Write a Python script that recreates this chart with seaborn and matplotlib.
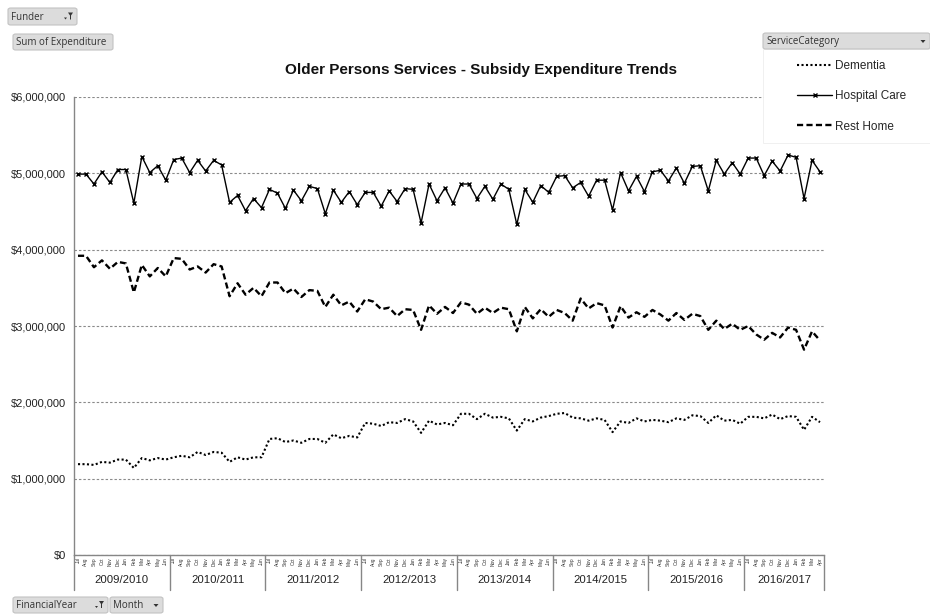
import matplotlib
matplotlib.use("Agg")
import matplotlib.pyplot as plt
import matplotlib.transforms as mtransforms
from matplotlib.patches import Rectangle, Polygon, FancyBboxPatch
from matplotlib.lines import Line2D
from matplotlib.ticker import StrMethodFormatter
import pandas as pd
import seaborn as sns

# ---- data -------------------------------------------------------------
financial_years = ["2009/2010", "2010/2011", "2011/2012", "2012/2013",
                   "2013/2014", "2014/2015", "2015/2016", "2016/2017"]
months = ["Jul", "Aug", "Sep", "Oct", "Nov", "Dec",
          "Jan", "Feb", "Mar", "Apr", "May", "Jun"]

# monthly subsidy expenditure, $ millions (Jul 2009 .. Apr 2017)
dementia = [
    1.19, 1.19, 1.18, 1.22, 1.21, 1.25, 1.25, 1.14, 1.27, 1.24, 1.27, 1.25,
    1.28, 1.30, 1.28, 1.35, 1.31, 1.35, 1.34, 1.22, 1.28, 1.25, 1.28, 1.28,
    1.52, 1.53, 1.48, 1.50, 1.47, 1.52, 1.52, 1.47, 1.58, 1.53, 1.56, 1.54,
    1.73, 1.72, 1.69, 1.74, 1.73, 1.78, 1.75, 1.60, 1.76, 1.71, 1.73, 1.70,
    1.85, 1.85, 1.78, 1.85, 1.80, 1.81, 1.79, 1.63, 1.78, 1.75, 1.80, 1.82,
    1.85, 1.86, 1.80, 1.79, 1.76, 1.79, 1.77, 1.61, 1.75, 1.73, 1.79, 1.75,
    1.77, 1.76, 1.74, 1.79, 1.77, 1.83, 1.82, 1.73, 1.83, 1.76, 1.77, 1.72,
    1.81, 1.81, 1.79, 1.84, 1.78, 1.82, 1.81, 1.64, 1.81, 1.74,
]
hospital_care = [
    4.99, 4.99, 4.86, 5.02, 4.88, 5.05, 5.05, 4.61, 5.22, 5.01, 5.10, 4.91,
    5.18, 5.20, 5.01, 5.17, 5.03, 5.17, 5.11, 4.62, 4.71, 4.51, 4.67, 4.55,
    4.79, 4.74, 4.54, 4.78, 4.64, 4.83, 4.80, 4.47, 4.78, 4.62, 4.76, 4.59,
    4.75, 4.75, 4.57, 4.77, 4.63, 4.80, 4.79, 4.35, 4.86, 4.64, 4.81, 4.61,
    4.86, 4.86, 4.67, 4.83, 4.66, 4.86, 4.79, 4.33, 4.79, 4.62, 4.84, 4.75,
    4.96, 4.97, 4.81, 4.88, 4.70, 4.91, 4.91, 4.52, 5.01, 4.77, 4.96, 4.76,
    5.02, 5.04, 4.90, 5.07, 4.87, 5.09, 5.10, 4.77, 5.17, 4.99, 5.14, 4.99,
    5.20, 5.20, 4.97, 5.16, 5.03, 5.24, 5.21, 4.67, 5.17, 5.02,
]
rest_home = [
    3.92, 3.92, 3.77, 3.86, 3.75, 3.84, 3.82, 3.44, 3.80, 3.65, 3.76, 3.65,
    3.89, 3.88, 3.74, 3.78, 3.70, 3.81, 3.78, 3.39, 3.56, 3.41, 3.50, 3.39,
    3.57, 3.57, 3.43, 3.49, 3.38, 3.47, 3.46, 3.25, 3.41, 3.27, 3.32, 3.19,
    3.35, 3.32, 3.22, 3.24, 3.13, 3.22, 3.21, 2.95, 3.27, 3.16, 3.25, 3.17,
    3.31, 3.28, 3.16, 3.24, 3.17, 3.24, 3.22, 2.93, 3.25, 3.10, 3.22, 3.12,
    3.21, 3.17, 3.07, 3.36, 3.23, 3.30, 3.27, 2.98, 3.26, 3.11, 3.18, 3.12,
    3.21, 3.15, 3.07, 3.17, 3.08, 3.16, 3.13, 2.95, 3.07, 2.96, 3.03, 2.95,
    3.00, 2.89, 2.82, 2.91, 2.85, 2.98, 2.95, 2.69, 2.93, 2.81,
]
y_ticks = [0, 1_000_000, 2_000_000, 3_000_000, 4_000_000, 5_000_000, 6_000_000]

# ---- long-form table --------------------------------------------------
n_periods = len(hospital_care)
period_year = [fy for fy in financial_years for _ in months][:n_periods]
period_month = [m for _ in financial_years for m in months][:n_periods]
series = {"Dementia": dementia, "Hospital Care": hospital_care, "Rest Home": rest_home}
frames = []
for name, vals in series.items():
    frames.append(pd.DataFrame({
        "Period": range(n_periods),
        "FinancialYear": period_year,
        "Month": period_month,
        "ServiceCategory": name,
        "Expenditure": [v * 1_000_000 for v in vals],
    }))
df = pd.concat(frames, ignore_index=True)

# ---- styling ----------------------------------------------------------
sns.set_style("white")
plt.rcParams["font.family"] = ["Liberation Sans", "DejaVu Sans"]

W, H = 930, 615
fig = plt.figure(figsize=(W / 100, H / 100), dpi=100)
fig.patch.set_facecolor("white")


def fx(px):
    return px / W


def fy(py):
    return 1 - py / H


ax = fig.add_axes([fx(74), fy(555), fx(824) - fx(74), fy(97) - fy(555)])

line_styles = {
    "Dementia": dict(linestyle=(0, (1.0, 1.15)), linewidth=1.5),
    "Hospital Care": dict(linestyle="-", linewidth=1.0, marker="x",
                          markersize=3.4, markeredgewidth=1.0,
                          markeredgecolor="black"),
    "Rest Home": dict(linestyle=(0, (2.6, 1.4)), linewidth=1.7),
}
for name, sub in df.groupby("ServiceCategory", sort=False):
    sns.lineplot(data=sub, x="Period", y="Expenditure", ax=ax, color="black",
                 legend=False, zorder=3, **line_styles[name])

# axes, grid, ticks
ax.set_xlim(-0.5, n_periods - 0.5)
ax.set_ylim(0, 6_000_000)
ax.set_yticks(y_ticks)
ax.yaxis.set_major_formatter(StrMethodFormatter("${x:,.0f}"))
ax.yaxis.grid(True, linestyle=(0, (2.2, 1.8)), color="#8a8a8a", linewidth=0.8)
ax.xaxis.grid(False)
ax.set_axisbelow(True)
ax.set_xlabel("")
ax.set_ylabel("")
for side in ("top", "right"):
    ax.spines[side].set_visible(False)
for side in ("left", "bottom"):
    ax.spines[side].set_color("#868686")
    ax.spines[side].set_linewidth(1.0)
ax.tick_params(axis="y", length=3, color="#868686", labelsize=8, pad=3,
               labelcolor="#222222")

ax.set_xticks(range(n_periods))
ax.set_xticklabels(period_month, rotation=90, fontsize=3.4, color="#333333")
ax.tick_params(axis="x", which="major", length=0, pad=1.5)
ax.set_xticks([i - 0.5 for i in range(n_periods + 1)], minor=True)
ax.tick_params(axis="x", which="minor", length=12, color="#868686", width=0.8)

# financial-year band under the month labels
trans = mtransforms.blended_transform_factory(ax.transData, ax.transAxes)
plot_h = 555 - 97
year_edges = [-0.5]
year_centres = []
for k, fyear in enumerate(financial_years):
    start = k * len(months) - 0.5
    end = min((k + 1) * len(months), n_periods) - 0.5
    year_edges.append(end)
    year_centres.append((start + end) / 2)
for edge in year_edges:
    ax.plot([edge, edge], [0, -35 / plot_h], transform=trans, color="#868686",
            linewidth=1.0, clip_on=False)
for centre, fyear in zip(year_centres, financial_years):
    ax.text(centre, -25 / plot_h, fyear, transform=trans, ha="center",
            va="center", fontsize=8.2, color="#222222")

# title
fig.text(fx(481), fy(70), "Older Persons Services - Subsidy Expenditure Trends",
         ha="center", va="center", fontsize=11, fontweight="bold", color="#111111")


# pivot-field buttons
def field_button(x0, y0, x1, y1, label, icon=None):
    fig.patches.append(FancyBboxPatch((fx(x0), fy(y1)), fx(x1) - fx(x0), fy(y0) - fy(y1),
                                      boxstyle="round,pad=0,rounding_size=0.003",
                                      transform=fig.transFigure, facecolor="#dcdcdc",
                                      edgecolor="#c2c2c2", linewidth=0.8, zorder=6))
    fig.text(fx(x0 + 3), fy((y0 + y1) / 2 + 0.5), label, ha="left", va="center",
             fontsize=7.0, color="#333333", family=["Open Sans", "DejaVu Sans"],
             zorder=7)
    if icon == "filter":
        cx, cy = x1 - 8, (y0 + y1) / 2
        fig.patches.append(Polygon([(fx(cx - 1), fy(cy - 4)), (fx(cx + 4), fy(cy - 4)),
                                    (fx(cx + 2), fy(cy - 1)), (fx(cx + 2), fy(cy + 3)),
                                    (fx(cx + 1), fy(cy + 3)), (fx(cx + 1), fy(cy - 1))],
                                   closed=True, transform=fig.transFigure,
                                   facecolor="#333333", edgecolor="none", zorder=7))
        fig.patches.append(Polygon([(fx(cx - 5), fy(cy + 1)), (fx(cx - 2), fy(cy + 1)),
                                    (fx(cx - 3.5), fy(cy + 3))], closed=True,
                                   transform=fig.transFigure, facecolor="#333333",
                                   edgecolor="none", zorder=7))
    elif icon == "drop":
        cx, cy = x1 - 7, (y0 + y1) / 2
        fig.patches.append(Polygon([(fx(cx - 2.5), fy(cy - 1)), (fx(cx + 2.5), fy(cy - 1)),
                                    (fx(cx), fy(cy + 2))], closed=True,
                                   transform=fig.transFigure, facecolor="#333333",
                                   edgecolor="none", zorder=7))


field_button(8, 8, 77, 25, "Funder", "filter")
field_button(13, 34, 113, 50, "Sum of Expenditure")
field_button(763, 33, 930, 49, "ServiceCategory", "drop")
field_button(13, 597, 108, 613, "FinancialYear", "filter")
field_button(110, 597, 163, 613, "Month", "drop")

# legend panel
fig.patches.append(Rectangle((fx(763), fy(143)), fx(930) - fx(763), fy(49) - fy(143),
                             transform=fig.transFigure, facecolor="white",
                             edgecolor="#eeeeee", linewidth=0.6, zorder=5))
handles = [Line2D([], [], color="black", **line_styles[name]) for name in series]
leg = fig.legend(handles, list(series), loc="upper left",
                 bbox_to_anchor=(fx(797), fy(60)), frameon=False, fontsize=8.5,
                 handlelength=3.0, handletextpad=0.2, labelspacing=1.55,
                 borderpad=0, borderaxespad=0)
leg.set_zorder(8)

fig.savefig("out.png", dpi=100)
